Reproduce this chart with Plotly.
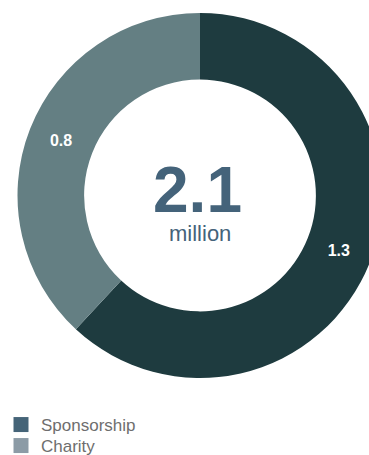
import plotly.graph_objects as go

# donut values (million)
labels = ["Sponsorship", "Charity"]
values = [1.3, 0.8]
slice_colors = ["#1e3b3f", "#647f83"]
legend_colors = ["#456478", "#8c9ba6"]
total_label = "2.1"
unit_label = "million"

W, H = 400, 455
cx, cy, r = 200, 195.5, 182.5

fig = go.Figure()

fig.add_trace(go.Pie(
    labels=labels, values=values, sort=False, direction="clockwise", rotation=0,
    hole=0.635,
    marker=dict(colors=slice_colors, line=dict(width=0)),
    text=[f"{v:.1f}" for v in values], textinfo="text",
    textposition="inside", insidetextorientation="horizontal",
    textfont=dict(family="Liberation Sans, Arial, sans-serif", size=16, color="white", weight="bold"),
    domain=dict(x=[(cx - r) / W, (cx + r) / W], y=[(H - cy - r) / H, (H - cy + r) / H]),
    showlegend=False, hoverinfo="label+value",
))

# legend entries (legend colours differ from slices in the source), one legend each
legend_rows = [425, 446]
for i, (name, col) in enumerate(zip(labels, legend_colors)):
    fig.add_trace(go.Scatter(
        x=[None], y=[None], mode="markers", name=name,
        legend="legend" if i == 0 else f"legend{i + 1}",
        marker=dict(symbol="square", size=15, color=col),
    ))

legend_style = dict(
    x=1 / W, xanchor="left", yanchor="middle",
    font=dict(family="Liberation Sans, Arial, sans-serif", size=17, color="#6e6e6e"),
    itemsizing="trace", bgcolor="rgba(0,0,0,0)", borderwidth=0,
)

fig.add_annotation(
    x=197 / W, y=1 - 190 / H, xref="paper", yref="paper", text=f"<b>{total_label}</b>",
    showarrow=False, xanchor="center", yanchor="middle",
    font=dict(family="Liberation Sans, Arial", size=64, color="#44637a"),
)
fig.add_annotation(
    x=200 / W, y=1 - 234 / H, xref="paper", yref="paper", text=unit_label,
    showarrow=False, xanchor="center", yanchor="middle",
    font=dict(family="Liberation Sans, Arial", size=22, color="#44637a"),
)

fig.update_layout(
    width=W, height=H,
    margin=dict(l=0, r=0, t=0, b=0, autoexpand=False),
    paper_bgcolor="white", plot_bgcolor="white",
    xaxis=dict(visible=False), yaxis=dict(visible=False),
    legend=dict(y=1 - legend_rows[0] / H, **legend_style),
    legend2=dict(y=1 - legend_rows[1] / H, **legend_style),
)

fig.write_html(
    "out.html",
    config={"displayModeBar": False},
    post_script="document.body.style.margin='0';document.body.style.overflow='hidden';",
)
